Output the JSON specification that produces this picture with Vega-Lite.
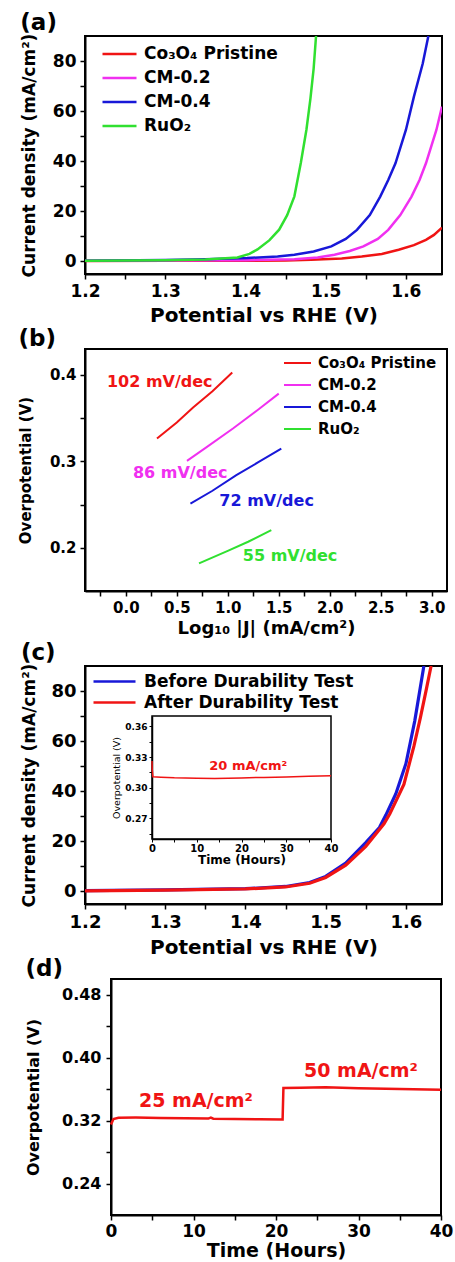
{
  "$schema": "https://vega.github.io/schema/vega-lite/v6.json",
  "background": "white",
  "padding": {"left": 17, "top": 11, "right": 2, "bottom": 0},
  "bounds": "flush",
  "spacing": 75,
  "resolve": {"scale": {"color": "independent"}, "legend": {"color": "independent"}},
  "config": {
    "font": "DejaVu Sans",
    "view": {"stroke": "black", "strokeWidth": 2},
    "axis": {"domainColor": "black", "domainWidth": 2, "tickColor": "black", "tickWidth": 1.5, "tickSize": 5, "labelColor": "black", "labelFontWeight": "bold", "titleColor": "black", "titleFontWeight": "bold", "grid": false, "labelFlush": false, "labelOverlap": false, "labelPadding": 4},
    "legend": {"labelFontWeight": "bold", "labelColor": "black", "padding": 0, "labelLimit": 300},
    "title": {"anchor": "start", "frame": "bounds", "fontSize": 23, "fontWeight": "bold", "color": "black", "offset": -2}
  },
  "vconcat": [
    {
      "title": {"text": "(a)"},
      "width": 357,
      "height": 238,
      "data": {"values": [
        {"V": 1.2, "J": 0.2, "s": "Co₃O₄ Pristine"},
        {"V": 1.3, "J": 0.25, "s": "Co₃O₄ Pristine"},
        {"V": 1.4, "J": 0.3, "s": "Co₃O₄ Pristine"},
        {"V": 1.45, "J": 0.4, "s": "Co₃O₄ Pristine"},
        {"V": 1.482, "J": 0.7, "s": "Co₃O₄ Pristine"},
        {"V": 1.52, "J": 1.2, "s": "Co₃O₄ Pristine"},
        {"V": 1.545, "J": 2.0, "s": "Co₃O₄ Pristine"},
        {"V": 1.57, "J": 3.0, "s": "Co₃O₄ Pristine"},
        {"V": 1.591, "J": 4.7, "s": "Co₃O₄ Pristine"},
        {"V": 1.61, "J": 6.5, "s": "Co₃O₄ Pristine"},
        {"V": 1.625, "J": 8.6, "s": "Co₃O₄ Pristine"},
        {"V": 1.635, "J": 10.6, "s": "Co₃O₄ Pristine"},
        {"V": 1.645, "J": 13.5, "s": "Co₃O₄ Pristine"},
        {"V": 1.2, "J": 0.25, "s": "CM-0.2"},
        {"V": 1.3, "J": 0.35, "s": "CM-0.2"},
        {"V": 1.4, "J": 0.5, "s": "CM-0.2"},
        {"V": 1.461, "J": 0.9, "s": "CM-0.2"},
        {"V": 1.49, "J": 1.6, "s": "CM-0.2"},
        {"V": 1.511, "J": 2.7, "s": "CM-0.2"},
        {"V": 1.53, "J": 4.2, "s": "CM-0.2"},
        {"V": 1.547, "J": 6.0, "s": "CM-0.2"},
        {"V": 1.565, "J": 9.0, "s": "CM-0.2"},
        {"V": 1.578, "J": 12.6, "s": "CM-0.2"},
        {"V": 1.593, "J": 18.5, "s": "CM-0.2"},
        {"V": 1.607, "J": 25.9, "s": "CM-0.2"},
        {"V": 1.617, "J": 32.5, "s": "CM-0.2"},
        {"V": 1.625, "J": 39.2, "s": "CM-0.2"},
        {"V": 1.638, "J": 52.5, "s": "CM-0.2"},
        {"V": 1.645, "J": 61.8, "s": "CM-0.2"},
        {"V": 1.2, "J": 0.3, "s": "CM-0.4"},
        {"V": 1.3, "J": 0.6, "s": "CM-0.4"},
        {"V": 1.35, "J": 0.9, "s": "CM-0.4"},
        {"V": 1.402, "J": 1.35, "s": "CM-0.4"},
        {"V": 1.44, "J": 2.0, "s": "CM-0.4"},
        {"V": 1.461, "J": 2.7, "s": "CM-0.4"},
        {"V": 1.485, "J": 4.0, "s": "CM-0.4"},
        {"V": 1.507, "J": 6.0, "s": "CM-0.4"},
        {"V": 1.525, "J": 9.0, "s": "CM-0.4"},
        {"V": 1.539, "J": 12.6, "s": "CM-0.4"},
        {"V": 1.555, "J": 18.5, "s": "CM-0.4"},
        {"V": 1.568, "J": 25.9, "s": "CM-0.4"},
        {"V": 1.578, "J": 32.5, "s": "CM-0.4"},
        {"V": 1.587, "J": 39.2, "s": "CM-0.4"},
        {"V": 1.6, "J": 52.5, "s": "CM-0.4"},
        {"V": 1.61, "J": 65.8, "s": "CM-0.4"},
        {"V": 1.621, "J": 79, "s": "CM-0.4"},
        {"V": 1.628, "J": 90, "s": "CM-0.4"},
        {"V": 1.2, "J": 0.3, "s": "RuO₂"},
        {"V": 1.3, "J": 0.45, "s": "RuO₂"},
        {"V": 1.35, "J": 0.75, "s": "RuO₂"},
        {"V": 1.39, "J": 1.6, "s": "RuO₂"},
        {"V": 1.405, "J": 3.0, "s": "RuO₂"},
        {"V": 1.415, "J": 4.8, "s": "RuO₂"},
        {"V": 1.43, "J": 8.5, "s": "RuO₂"},
        {"V": 1.442, "J": 12.7, "s": "RuO₂"},
        {"V": 1.452, "J": 18.5, "s": "RuO₂"},
        {"V": 1.461, "J": 26, "s": "RuO₂"},
        {"V": 1.469, "J": 39.3, "s": "RuO₂"},
        {"V": 1.476, "J": 52.6, "s": "RuO₂"},
        {"V": 1.481, "J": 65, "s": "RuO₂"},
        {"V": 1.485, "J": 77, "s": "RuO₂"},
        {"V": 1.488, "J": 90, "s": "RuO₂"}
      ]},
      "mark": {"type": "line", "strokeWidth": 2.5, "clip": true},
      "encoding": {
        "x": {"field": "V", "type": "quantitative", "scale": {"domain": [1.2, 1.645], "nice": false, "zero": false},
          "axis": {"title": "Potential vs RHE (V)", "values": [1.2, 1.25, 1.3, 1.35, 1.4, 1.45, 1.5, 1.55, 1.6], "format": ".1f", "labelExpr": "round(datum.value*100) % 10 == 0 ? datum.label : ''", "labelFontSize": 17, "titleFontSize": 20, "titlePadding": 6}},
        "y": {"field": "J", "type": "quantitative", "scale": {"domain": [-5, 90], "nice": false},
          "axis": {"title": "Current density (mA/cm²)", "values": [0, 10, 20, 30, 40, 50, 60, 70, 80], "labelExpr": "datum.value % 20 == 0 ? datum.label : ''", "labelFontSize": 17, "titleFontSize": 17, "titlePadding": 14}},
        "color": {"field": "s", "type": "nominal", "sort": null,
          "scale": {"domain": ["Co₃O₄ Pristine", "CM-0.2", "CM-0.4", "RuO₂"], "range": ["#f01414", "#f030f0", "#1818d8", "#30e030"]},
          "legend": {"title": null, "orient": "none", "legendX": 16, "legendY": 7, "symbolType": "stroke", "symbolSize": 1156, "symbolStrokeWidth": 2.5, "labelFontSize": 17, "labelOffset": 6, "clipHeight": 22, "rowPadding": 2}}
      }
    },
    {
      "title": {"text": "(b)"},
      "width": 362,
      "height": 242,
      "encoding": {
        "x": {"field": "L", "type": "quantitative", "scale": {"domain": [-0.4, 3.15], "nice": false, "zero": false},
          "axis": {"title": "Log₁₀ |J| (mA/cm²)", "values": [-0.25, 0, 0.25, 0.5, 0.75, 1, 1.25, 1.5, 1.75, 2, 2.25, 2.5, 2.75, 3], "format": ".1f", "labelExpr": "abs(round(datum.value*100)) % 50 == 0 ? datum.label : ''", "labelFontSize": 15, "titleFontSize": 18, "titlePadding": 4}},
        "y": {"field": "E", "type": "quantitative", "scale": {"domain": [0.15, 0.43], "nice": false, "zero": false},
          "axis": {"title": "Overpotential (V)", "values": [0.2, 0.25, 0.3, 0.35, 0.4], "format": ".1f", "labelExpr": "round(datum.value*100) % 10 == 0 ? datum.label : ''", "labelFontSize": 15, "titleFontSize": 15, "titlePadding": 16}},
        "color": {"field": "s", "type": "nominal", "sort": null,
          "scale": {"domain": ["Co₃O₄ Pristine", "CM-0.2", "CM-0.4", "RuO₂"], "range": ["#f01414", "#f030f0", "#1818d8", "#30e030"]},
          "legend": {"title": null, "orient": "none", "legendX": 198, "legendY": 4, "symbolType": "stroke", "symbolSize": 729, "symbolStrokeWidth": 2, "labelFontSize": 15, "labelOffset": 6, "clipHeight": 20, "rowPadding": 2}}
      },
      "layer": [
        {
          "data": {"values": [
            {"L": 0.306, "E": 0.3264, "s": "Co₃O₄ Pristine"},
            {"L": 0.5, "E": 0.345, "s": "Co₃O₄ Pristine"},
            {"L": 0.66, "E": 0.3624, "s": "Co₃O₄ Pristine"},
            {"L": 0.85, "E": 0.381, "s": "Co₃O₄ Pristine"},
            {"L": 1.044, "E": 0.4027, "s": "Co₃O₄ Pristine"},
            {"L": 0.6, "E": 0.3006, "s": "CM-0.2"},
            {"L": 0.8, "E": 0.317, "s": "CM-0.2"},
            {"L": 1.051, "E": 0.338, "s": "CM-0.2"},
            {"L": 1.3, "E": 0.36, "s": "CM-0.2"},
            {"L": 1.5, "E": 0.3784, "s": "CM-0.2"},
            {"L": 0.634, "E": 0.2512, "s": "CM-0.4"},
            {"L": 0.85, "E": 0.266, "s": "CM-0.4"},
            {"L": 1.084, "E": 0.284, "s": "CM-0.4"},
            {"L": 1.3, "E": 0.299, "s": "CM-0.4"},
            {"L": 1.525, "E": 0.3148, "s": "CM-0.4"},
            {"L": 0.718, "E": 0.1819, "s": "RuO₂"},
            {"L": 1.0, "E": 0.1965, "s": "RuO₂"},
            {"L": 1.2, "E": 0.207, "s": "RuO₂"},
            {"L": 1.427, "E": 0.2205, "s": "RuO₂"}
          ]},
          "mark": {"type": "line", "strokeWidth": 2}
        },
        {
          "data": {"values": [
            {"L": 0.333, "E": 0.392, "s": "Co₃O₄ Pristine", "label": "102 mV/dec"},
            {"L": 0.534, "E": 0.287, "s": "CM-0.2", "label": "86 mV/dec"},
            {"L": 1.381, "E": 0.254, "s": "CM-0.4", "label": "72 mV/dec"},
            {"L": 1.611, "E": 0.1908, "s": "RuO₂", "label": "55 mV/dec"}
          ]},
          "mark": {"type": "text", "fontSize": 16, "fontWeight": "bold", "align": "center", "baseline": "middle"},
          "encoding": {
            "text": {"field": "label"}
          }
        }
      ]
    },
    {
      "title": {"text": "(c)"},
      "width": 357,
      "height": 238,
      "layer": [
        {
          "data": {"values": [
            {"V": 1.2, "J": 0.3, "s": "Before Durability Test"},
            {"V": 1.3, "J": 0.6, "s": "Before Durability Test"},
            {"V": 1.4, "J": 1.1, "s": "Before Durability Test"},
            {"V": 1.45, "J": 2.0, "s": "Before Durability Test"},
            {"V": 1.48, "J": 3.6, "s": "Before Durability Test"},
            {"V": 1.5, "J": 6.0, "s": "Before Durability Test"},
            {"V": 1.525, "J": 11.3, "s": "Before Durability Test"},
            {"V": 1.55, "J": 19.5, "s": "Before Durability Test"},
            {"V": 1.567, "J": 25.5, "s": "Before Durability Test"},
            {"V": 1.575, "J": 30.5, "s": "Before Durability Test"},
            {"V": 1.5875, "J": 39, "s": "Before Durability Test"},
            {"V": 1.6, "J": 51, "s": "Before Durability Test"},
            {"V": 1.611, "J": 68, "s": "Before Durability Test"},
            {"V": 1.6224, "J": 90, "s": "Before Durability Test"},
            {"V": 1.2, "J": 0.2, "s": "After Durability Test"},
            {"V": 1.3, "J": 0.5, "s": "After Durability Test"},
            {"V": 1.4, "J": 1.0, "s": "After Durability Test"},
            {"V": 1.45, "J": 1.8, "s": "After Durability Test"},
            {"V": 1.48, "J": 3.3, "s": "After Durability Test"},
            {"V": 1.5, "J": 5.6, "s": "After Durability Test"},
            {"V": 1.525, "J": 10.5, "s": "After Durability Test"},
            {"V": 1.55, "J": 18, "s": "After Durability Test"},
            {"V": 1.5727, "J": 27, "s": "After Durability Test"},
            {"V": 1.58, "J": 31, "s": "After Durability Test"},
            {"V": 1.5975, "J": 42.7, "s": "After Durability Test"},
            {"V": 1.61, "J": 58, "s": "After Durability Test"},
            {"V": 1.618, "J": 69.3, "s": "After Durability Test"},
            {"V": 1.625, "J": 80, "s": "After Durability Test"},
            {"V": 1.6314, "J": 90, "s": "After Durability Test"}
          ]},
          "mark": {"type": "line", "strokeWidth": 3.2, "clip": true},
          "encoding": {
            "x": {"field": "V", "type": "quantitative", "scale": {"domain": [1.2, 1.645], "nice": false, "zero": false},
              "axis": {"title": "Potential vs RHE (V)", "values": [1.2, 1.25, 1.3, 1.35, 1.4, 1.45, 1.5, 1.55, 1.6], "format": ".1f", "labelExpr": "round(datum.value*100) % 10 == 0 ? datum.label : ''", "labelFontSize": 18, "titleFontSize": 20, "titlePadding": 6}},
            "y": {"field": "J", "type": "quantitative", "scale": {"domain": [-5, 90], "nice": false},
              "axis": {"title": "Current density (mA/cm²)", "values": [0, 10, 20, 30, 40, 50, 60, 70, 80], "labelExpr": "datum.value % 20 == 0 ? datum.label : ''", "labelFontSize": 18, "titleFontSize": 17, "titlePadding": 12}},
            "color": {"field": "s", "type": "nominal", "sort": null,
              "scale": {"domain": ["Before Durability Test", "After Durability Test"], "range": ["#1818d8", "#f01414"]},
              "legend": {"title": null, "orient": "none", "legendX": 7, "legendY": 6, "symbolType": "stroke", "symbolSize": 1764, "symbolStrokeWidth": 2.5, "labelFontSize": 17, "labelOffset": 7, "clipHeight": 19, "rowPadding": 2}}
          }
        },
        {
          "layer": [
            {
              "data": {"values": [{}]},
              "mark": {"type": "rect", "filled": false, "stroke": "black", "strokeWidth": 1.5},
              "encoding": {
                "x": {"datum": 0, "type": "quantitative"},
                "x2": {"datum": 40},
                "y": {"datum": 0.25, "type": "quantitative"},
                "y2": {"datum": 0.37}
              }
            },
            {
              "data": {"values": [
                {"t": 0, "v": 0.326},
                {"t": 0.05, "v": 0.318},
                {"t": 0.2, "v": 0.3108},
                {"t": 2, "v": 0.3103},
                {"t": 5, "v": 0.3097},
                {"t": 10, "v": 0.3092},
                {"t": 14, "v": 0.309},
                {"t": 20, "v": 0.3096},
                {"t": 25, "v": 0.3101},
                {"t": 30, "v": 0.3106},
                {"t": 35, "v": 0.3112},
                {"t": 40, "v": 0.3117}
              ]},
              "mark": {"type": "line", "color": "#f01414", "strokeWidth": 1.5},
              "encoding": {
                "x": {"field": "t", "type": "quantitative"},
                "y": {"field": "v", "type": "quantitative"}
              }
            },
            {
              "data": {"values": [{}]},
              "mark": {"type": "text", "text": "20 mA/cm²", "fontSize": 13, "fontWeight": "bold", "color": "#f01414", "align": "center", "baseline": "middle"},
              "encoding": {
                "x": {"datum": 21.5, "type": "quantitative"},
                "y": {"datum": 0.3213, "type": "quantitative"}
              }
            }
          ],
          "encoding": {
            "x": {"type": "quantitative", "scale": {"domain": [0, 40], "range": [67, 246], "nice": false, "zero": false},
              "axis": {"orient": "bottom", "offset": -65, "title": "Time (Hours)", "values": [0, 5, 10, 15, 20, 25, 30, 35, 40], "labelExpr": "datum.value % 10 == 0 ? datum.label : ''", "labelFontSize": 10, "titleFontSize": 12, "tickSize": 3, "tickWidth": 1, "domainWidth": 1.5, "labelPadding": 1, "titlePadding": 1}},
            "y": {"type": "quantitative", "scale": {"domain": [0.25, 0.37], "range": [173, 50], "nice": false, "zero": false},
              "axis": {"orient": "left", "offset": -67, "title": "Overpotential (V)", "values": [0.255, 0.27, 0.285, 0.3, 0.315, 0.33, 0.345, 0.36], "format": ".2f", "labelExpr": "round(datum.value*1000) % 30 == 0 ? datum.label : ''", "labelFontSize": 9, "titleFontSize": 9.5, "titleFontWeight": "normal", "tickSize": 3, "tickWidth": 1, "domainWidth": 1.5, "labelPadding": 2, "titlePadding": 3}}
          }
        }
      ],
      "resolve": {"scale": {"x": "independent", "y": "independent"}}
    },
    {
      "hconcat": [
        {
          "width": 26,
          "height": 236,
          "view": {"stroke": null},
          "data": {"values": [{}]},
          "mark": {"type": "text", "text": ""}
        },
        {
          "title": {"text": "(d)"},
          "width": 330,
          "height": 236,
          "encoding": {
            "x": {"field": "t", "type": "quantitative", "scale": {"domain": [0, 40], "nice": false, "zero": false},
              "axis": {"title": "Time (Hours)", "values": [0, 5, 10, 15, 20, 25, 30, 35, 40], "labelExpr": "datum.value % 10 == 0 ? datum.label : ''", "labelFontSize": 17, "titleFontSize": 19, "labelPadding": 3, "titlePadding": 2}},
            "y": {"field": "v", "type": "quantitative", "scale": {"domain": [0.2, 0.5], "nice": false, "zero": false},
              "axis": {"title": "Overpotential (V)", "values": [0.24, 0.28, 0.32, 0.36, 0.4, 0.44, 0.48], "format": ".2f", "labelExpr": "round(datum.value*100) % 8 == 0 ? datum.label : ''", "labelFontSize": 16, "titleFontSize": 16, "labelPadding": 5, "titlePadding": 20}}
          },
          "layer": [
            {
              "data": {"values": [
                {"t": 0, "v": 0.315},
                {"t": 0.3, "v": 0.322},
                {"t": 0.9, "v": 0.3237},
                {"t": 3, "v": 0.3238},
                {"t": 6, "v": 0.3234},
                {"t": 9, "v": 0.323},
                {"t": 11.8, "v": 0.3226},
                {"t": 12.1, "v": 0.3238},
                {"t": 12.4, "v": 0.3224},
                {"t": 15, "v": 0.3221},
                {"t": 18, "v": 0.3217},
                {"t": 20.8, "v": 0.3213},
                {"t": 20.9, "v": 0.3615},
                {"t": 23, "v": 0.3618},
                {"t": 26, "v": 0.3623},
                {"t": 30, "v": 0.3612},
                {"t": 35, "v": 0.3602},
                {"t": 40, "v": 0.3592}
              ]},
              "mark": {"type": "line", "color": "#f01414", "strokeWidth": 2.5}
            },
            {
              "data": {"values": [
                {"t": 10.3, "v": 0.345, "label": "25 mA/cm²"},
                {"t": 30.3, "v": 0.3826, "label": "50 mA/cm²"}
              ]},
              "mark": {"type": "text", "fontSize": 19, "fontWeight": "bold", "color": "#f01414", "align": "center", "baseline": "middle"},
              "encoding": {
                "text": {"field": "label"}
              }
            }
          ]
        }
      ],
      "bounds": "flush",
      "spacing": 0
    }
  ]
}
